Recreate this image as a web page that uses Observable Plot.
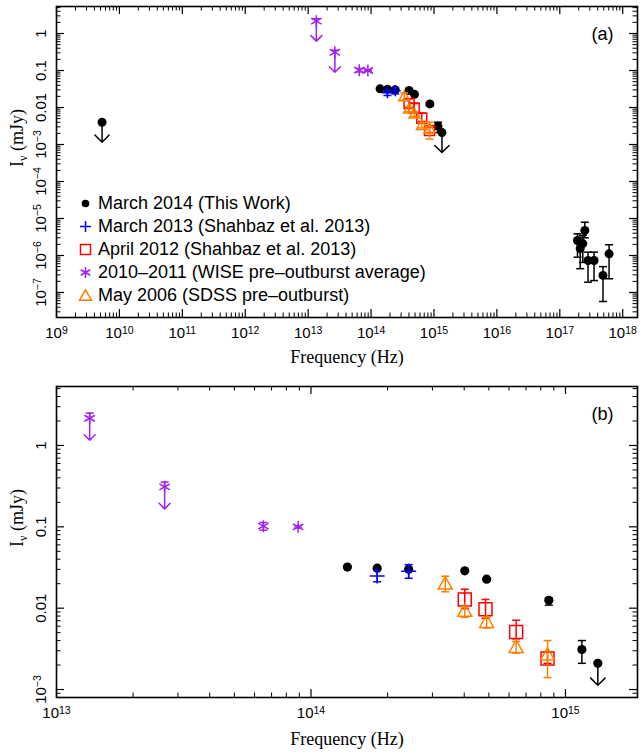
<!DOCTYPE html>
<html><head><meta charset="utf-8">
<script src="https://cdn.jsdelivr.net/npm/d3@7"></script>
<script src="https://cdn.jsdelivr.net/npm/@observablehq/plot@0.6"></script>
<style>
body{margin:0;background:#fff;}
#wrap{position:relative;width:641px;height:756px;font-family:"Liberation Sans",Arial,Helvetica,sans-serif;}
#wrap svg{display:block;overflow:visible;}
#legend{position:absolute;left:76px;top:192.5px;font-size:18px;}
#legend .row{display:flex;align-items:center;height:22.8px;white-space:nowrap;}
#legend .row span{margin-left:3px;}
</style></head><body><div id="wrap"></div>
<script>
// ---------------- DATA ----------------
// March 2014 (This Work): detections
const m14Freq = [1.39e14, 1.82e14, 2.42e14, 4.02e14, 4.9e14, 8.6e14, 1.16e15, 1.91e17, 2.11e17, 2.32e17, 2.5e17, 2.81e17, 3.5e17, 4.86e17, 6.07e17];
const m14Flux = [0.032, 0.031, 0.030, 0.0288, 0.0227, 0.0125, 0.0031, 2.54e-6, 1.55e-6, 2.1e-6, 4.74e-6, 7.3e-7, 7.3e-7, 2.9e-7, 1.11e-6];
const m14Lo   = [null, null, null, null, null, 0.0109, 0.0021, 9.0e-7, 4.4e-7, 6.5e-7, 3.0e-6, 1.9e-7, 2.1e-7, 5.7e-8, 2.35e-7];
const m14Hi   = [null, null, null, null, null, 0.0134, 0.0040, 3.86e-6, 3.1e-6, 3.5e-6, 7.9e-6, 1.23e-6, 1.23e-6, 5.0e-7, 1.95e-6];
// March 2014 upper limits
const m14UlFreq = [5.3e9, 1.34e15];
const m14UlFlux = [0.0040, 0.0021];
// March 2013 (Shahbaz et al. 2013)
const m13Freq = [1.82e14, 2.42e14];
const m13Flux = [0.0249, 0.0284];
const m13Lo   = [0.0211, 0.0233];
const m13Hi   = [0.0292, 0.0343];
// April 2012 (Shahbaz et al. 2013)
const a12Freq = [4.02e14, 4.85e14, 6.4e14, 8.5e14];
const a12Flux = [0.0128, 0.0097, 0.0051, 0.0024];
const a12Lo   = [0.0099, 0.0075, 0.0042, 0.0021];
const a12Hi   = [0.0171, 0.0128, 0.0071, 0.0029];
// 2010-2011 WISE pre-outburst average
const wiseFreq = [1.35e13, 2.66e13, 6.5e13, 8.9e13];
const wiseFlux = [2.16, 0.31, 0.102, 0.100];
const wiseLo   = [null, null, 0.091, 0.097];
const wiseHi   = [2.5, 0.355, 0.113, 0.103];
const wiseUpperLimit = [true, true, false, false];
// May 2006 SDSS pre-outburst
const sdssFreq = [3.37e14, 4.02e14, 4.9e14, 6.4e14, 8.5e14];
const sdssFlux = [0.0201, 0.0093, 0.0068, 0.00335, 0.0027];
const sdssLo   = [0.0159, 0.0077, 0.0057, 0.0028, 0.0014];
const sdssHi   = [0.0247, 0.0104, 0.0077, 0.0039, 0.0040];

// Tick values and labels
const xTicksA = [1e9, 1e10, 1e11, 1e12, 1e13, 1e14, 1e15, 1e16, 1e17, 1e18];
const xLabelsA = ["10^9", "10^10", "10^11", "10^12", "10^13", "10^14", "10^15", "10^16", "10^17", "10^18"];
const yTicksA = [1, 0.1, 0.01, 1e-3, 1e-4, 1e-5, 1e-6, 1e-7];
const yLabelsA = ["1", "0.1", "0.01", "10^−3", "10^−4", "10^−5", "10^−6", "10^−7"];
const xTicksB = [1e13, 1e14, 1e15];
const xLabelsB = ["10^13", "10^14", "10^15"];
const yTicksB = [1, 0.1, 0.01, 1e-3];
const yLabelsB = ["1", "0.1", "0.01", "10^−3"];

const legendLabels = ["March 2014 (This Work)", "March 2013 (Shahbaz et al. 2013)", "April 2012 (Shahbaz et al. 2013)", "2010–2011 (WISE pre–outburst average)", "May 2006 (SDSS pre–outburst)"];

// ---------------- HELPERS ----------------
const BLACK = "#000000", BLUE = "#0000ff", RED = "#ff0000", PURPLE = "#a020f0", ORANGE = "#ff8000";
const rows = (f, v, lo, hi) => f.map((x, i) => ({f: x, v: v[i], lo: lo ? lo[i] : null, hi: hi ? hi[i] : null}));
const m14 = rows(m14Freq, m14Flux, m14Lo, m14Hi);
const m14Ul = rows(m14UlFreq, m14UlFlux);
const m13 = rows(m13Freq, m13Flux, m13Lo, m13Hi);
const a12 = rows(a12Freq, a12Flux, a12Lo, a12Hi);
const wise = rows(wiseFreq, wiseFlux, wiseLo, wiseHi).map((d, i) => ({...d, ul: wiseUpperLimit[i]}));
const sdss = rows(sdssFreq, sdssFlux, sdssLo, sdssHi);

const sym = fn => ({draw(ctx, size) { fn(ctx, Math.sqrt(size / Math.PI)); }});
const drawPlus = (c, r) => { c.moveTo(-r, 0); c.lineTo(r, 0); c.moveTo(0, -r); c.lineTo(0, r); };
const drawSquare = (c, r) => { c.moveTo(-r, -r); c.lineTo(r, -r); c.lineTo(r, r); c.lineTo(-r, r); c.closePath(); };
const drawTri = (c, r) => { c.moveTo(0, -0.95 * r); c.lineTo(r, 0.8 * r); c.lineTo(-r, 0.8 * r); c.closePath(); };
const drawAst = (c, r) => { const a = r * 0.87, b = r * 0.5; c.moveTo(0, -r); c.lineTo(0, r); c.moveTo(-a, -b); c.lineTo(a, b); c.moveTo(-a, b); c.lineTo(a, -b); };
const drawCap = (c, r) => { c.moveTo(-r, 0); c.lineTo(r, 0); };
const drawCircle = (c, r) => { c.moveTo(r, 0); c.arc(0, 0, r, 0, 2 * Math.PI); };
const plusSym = sym(drawPlus), squareSym = sym(drawSquare), triSym = sym(drawTri), astSym = sym(drawAst), capSym = sym(drawCap);

function logMinor(lo, hi) {
  const out = [];
  for (let e = Math.floor(Math.log10(lo)); e <= Math.ceil(Math.log10(hi)); e++)
    for (let k = 2; k <= 9; k++) { const v = k * Math.pow(10, e); if (v >= lo && v <= hi) out.push(v); }
  return out;
}

function seriesMarks(data, {color, symbol, r, filled}) {
  const errs = data.filter(d => d.lo != null || d.hi != null);
  return [
    Plot.ruleX(errs, {x: "f", y1: d => d.lo ?? d.v, y2: d => d.hi ?? d.v, stroke: color, strokeWidth: 1.5}),
    Plot.dot(data.filter(d => d.lo != null), {x: "f", y: "lo", symbol: capSym, r: 4, stroke: color, fill: "none", strokeWidth: 1.5}),
    Plot.dot(data.filter(d => d.hi != null), {x: "f", y: "hi", symbol: capSym, r: 4, stroke: color, fill: "none", strokeWidth: 1.5}),
    filled
      ? Plot.dot(data, {x: "f", y: "v", r, fill: color, stroke: "none"})
      : Plot.dot(data, {x: "f", y: "v", symbol, r, fill: "none", stroke: color, strokeWidth: 1.5})
  ];
}

function panel(o) {
  const W = 641, ml = 56, mr = 4;
  const iw = W - ml - mr, ih = o.height - o.mt - o.mb;
  const xMinor = logMinor(o.xd[0], o.xd[1]).filter(v => !o.xt.includes(v));
  const yMinor = logMinor(o.yd[0], o.yd[1]).filter(v => !o.yt.includes(v));
  const MJ = 8, MN = 4.5;
  const s = o.s;
  return Plot.plot({
    width: W, height: o.height,
    marginLeft: ml, marginRight: mr, marginTop: o.mt, marginBottom: o.mb,
    x: {type: "log", domain: o.xd, axis: null},
    y: {type: "log", domain: o.yd, axis: null},
    style: {fontFamily: '"Liberation Sans", Arial, Helvetica, sans-serif', fontSize: "15px", color: "black", background: "white", overflow: "visible"},
    marks: [
      // ticks (inward, all four sides)
      Plot.tickX(o.xt, {x: d => d, insetTop: ih - MJ, strokeWidth: 1.2}),
      Plot.tickX(o.xt, {x: d => d, insetBottom: ih - MJ, strokeWidth: 1.2}),
      Plot.tickX(xMinor, {x: d => d, insetTop: ih - MN, strokeWidth: 1}),
      Plot.tickX(xMinor, {x: d => d, insetBottom: ih - MN, strokeWidth: 1}),
      Plot.tickY(o.yt, {y: d => d, insetRight: iw - MJ, strokeWidth: 1.2}),
      Plot.tickY(o.yt, {y: d => d, insetLeft: iw - MJ, strokeWidth: 1.2}),
      Plot.tickY(yMinor, {y: d => d, insetRight: iw - MN, strokeWidth: 1}),
      Plot.tickY(yMinor, {y: d => d, insetLeft: iw - MN, strokeWidth: 1}),
      Plot.frame({stroke: "black", strokeWidth: 1.6}),
      // tick labels
      Plot.text(o.xt, {x: d => d, text: (d, i) => o.xl[i], frameAnchor: "bottom", lineAnchor: "top", dy: 10, fontSize: 15}),
      Plot.text(o.yt, {y: d => d, text: (d, i) => o.yl[i], frameAnchor: "left", rotate: -90, textAnchor: "middle", lineAnchor: "bottom", dx: -11, fontSize: 15}),
      // axis titles
      Plot.text(["Frequency (Hz)"], {text: d => d, frameAnchor: "bottom", dy: o.xlabDy, fontFamily: '"Liberation Serif", "Times New Roman", serif', fontSize: 18}),
      Plot.text(["Iν (mJy)"], {text: d => d, frameAnchor: "left", rotate: -90, dx: -39.5, dy: 5, fontFamily: '"Liberation Serif", "Times New Roman", serif', fontSize: 18}),
      Plot.text([o.tag], {text: d => d, frameAnchor: "top-right", textAnchor: "end", lineAnchor: "top", dx: -24, dy: 21, fontSize: 18}),
      // data
      ...seriesMarks(m14, {color: BLACK, r: s.circle, filled: true}),
      Plot.dot(m14Ul, {x: "f", y: "v", r: s.circle, fill: BLACK}),
      Plot.vector(m14Ul, {x: "f", y: "v", length: s.arrow, rotate: 180, anchor: "start", stroke: BLACK, strokeWidth: 1.5, r: s.arrowR * 1.3}),
      ...seriesMarks(m13, {color: BLUE, symbol: plusSym, r: s.plus}),
      ...seriesMarks(a12, {color: RED, symbol: squareSym, r: s.square}),
      ...seriesMarks(wise, {color: PURPLE, symbol: astSym, r: s.ast}),
      Plot.vector(wise.filter(d => d.ul), {x: "f", y: "v", length: s.arrow, rotate: 180, anchor: "start", stroke: PURPLE, strokeWidth: 1.5, r: s.arrowR}),
      ...seriesMarks(sdss, {color: ORANGE, symbol: triSym, r: s.tri})
    ]
  });
}

function richText(svg) {
  svg.querySelectorAll("text").forEach(t => {
    const txt = t.textContent;
    const m = txt.match(/^10\^(.+)$/);
    if (m) {
      t.textContent = "10";
      const ts = document.createElementNS("http://www.w3.org/2000/svg", "tspan");
      ts.setAttribute("dy", "-4.5");
      ts.setAttribute("font-size", "10.5");
      ts.textContent = m[1];
      t.appendChild(ts);
    } else if (txt === "Iν (mJy)") {
      t.textContent = "I";
      const a = document.createElementNS("http://www.w3.org/2000/svg", "tspan");
      a.setAttribute("dy", "4"); a.setAttribute("font-size", "12"); a.textContent = "ν";
      const b = document.createElementNS("http://www.w3.org/2000/svg", "tspan");
      b.setAttribute("dy", "-4"); b.textContent = " (mJy)";
      t.appendChild(a); t.appendChild(b);
    }
  });
  return svg;
}

const panelA = richText(panel({
  height: 372, mt: 6, mb: 55,
  xd: [1e9, Math.pow(10, 18.235)], yd: [Math.pow(10, -7.676), Math.pow(10, 0.73)],
  xt: xTicksA, xl: xLabelsA, yt: yTicksA, yl: yLabelsA, xlabDy: 45, tag: "(a)",
  s: {circle: 4.5, plus: 5.5, square: 5, ast: 6, tri: 5.5, arrow: 20, arrowR: 4.8}
}));
const panelB = richText(panel({
  height: 384, mt: 14, mb: 59,
  xd: [1e13, Math.pow(10, 15.283)], yd: [Math.pow(10, -3.098), Math.pow(10, 0.725)],
  xt: xTicksB, xl: xLabelsB, yt: yTicksB, yl: yLabelsB, xlabDy: 47.5, tag: "(b)",
  s: {circle: 4.6, plus: 7.5, square: 6.5, ast: 6, tri: 7, arrow: 22, arrowR: 4.4}
}));

const wrap = document.getElementById("wrap");
wrap.append(panelA, panelB);

// legend (inside panel a)
const legendSpec = [
  {color: BLACK, draw: drawCircle, r: 3.8, fill: true},
  {color: BLUE, draw: drawPlus, r: 5.5},
  {color: RED, draw: drawSquare, r: 5},
  {color: PURPLE, draw: drawAst, r: 5.5},
  {color: ORANGE, draw: drawTri, r: 6}
];
const legend = document.createElement("div");
legend.id = "legend";
legendLabels.forEach((label, i) => {
  const row = document.createElement("div");
  row.className = "row";
  const spec = legendSpec[i];
  const p = d3.path(); spec.draw(p, spec.r);
  const svg = d3.create("svg").attr("width", 19).attr("height", 23);
  svg.append("path").attr("d", p.toString()).attr("transform", "translate(9.5,11.5)")
    .attr("fill", spec.fill ? spec.color : "none").attr("stroke", spec.fill ? "none" : spec.color).attr("stroke-width", 1.5);
  row.appendChild(svg.node());
  const span = document.createElement("span");
  span.textContent = label;
  row.appendChild(span);
  legend.appendChild(row);
});
wrap.appendChild(legend);
</script>
</body></html>
